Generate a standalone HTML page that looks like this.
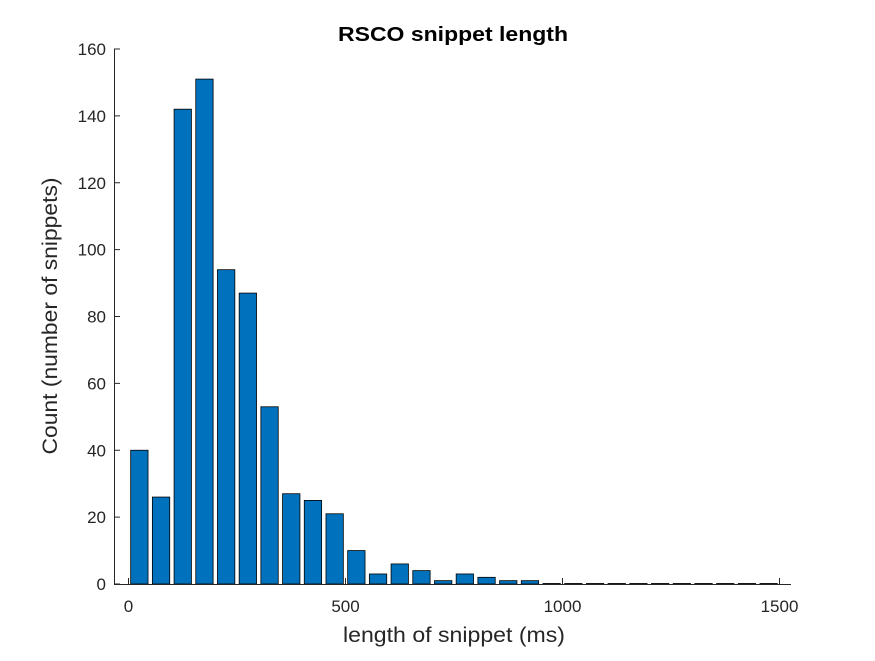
<!DOCTYPE html>
<html><head><meta charset="utf-8"><style>
body{margin:0;background:#fff;}
svg text{font-family:"Liberation Sans",Arial,sans-serif;fill:#262626;}
</style></head><body>
<svg width="875" height="656" xmlns="http://www.w3.org/2000/svg">
<rect width="875" height="656" fill="#fff"/>
<g id="bars"></g>
<g id="axes"></g>
<text x="453" y="41" text-anchor="middle" font-size="20" font-weight="bold" textLength="230" lengthAdjust="spacingAndGlyphs" style="fill:#000">RSCO snippet length</text>
<text x="454" y="642" text-anchor="middle" font-size="21" textLength="222" lengthAdjust="spacingAndGlyphs">length of snippet (ms)</text>
<text transform="translate(57,316) rotate(-90)" text-anchor="middle" font-size="21" textLength="277" lengthAdjust="spacingAndGlyphs">Count (number of snippets)</text>
</svg>
<script>
const binCenters=[25,75,125,175,225,275,325,375,425,475,525,575,625,675,725,775,825,875,925,975,1025,1075,1125,1175,1225,1275,1325,1375,1425,1475];
const counts=[40,26,142,151,94,87,53,27,25,21,10,3,6,4,1,3,2,1,1,0,0,0,0,0,0,0,0,0,0,0];
const xTicks=[0,500,1000,1500];
const yTicks=[0,20,40,60,80,100,120,140,160];
const binWidth=50;
const NS="http://www.w3.org/2000/svg";
const x=v=>128.5+v*(217/500);
const y=v=>584-v*(535/160);
const bars=document.getElementById('bars'),axes=document.getElementById('axes');
function mk(t,a,p){const e=document.createElementNS(NS,t);for(const k in a)e.setAttribute(k,a[k]);p.appendChild(e);return e;}
binCenters.forEach((c,i)=>{
  const w=binWidth*0.8;
  const r=mk('rect',{x:x(c-w/2),y:y(counts[i])-(counts[i]===0?0.5:0),width:x(c+w/2)-x(c-w/2),height:Math.max(y(0)-y(counts[i]),0.5),fill:'#0072BD',stroke:'#000','stroke-width':0.8},bars);
  
  
});
mk('line',{x1:114,y1:584.5,x2:791,y2:584.5,stroke:'#262626','stroke-width':1},axes);
mk('line',{x1:114.5,y1:49,x2:114.5,y2:584,stroke:'#262626','stroke-width':1},axes);
xTicks.forEach(t=>{
  mk('line',{x1:x(t),y1:584,x2:x(t),y2:578,stroke:'#262626'},axes);
  const tx=mk('text',{x:x(t),y:612,'text-anchor':'middle','font-size':17},axes);
  tx.textContent=t;
  
  
});
yTicks.forEach(t=>{
  mk('line',{x1:114,y1:y(t),x2:120,y2:y(t),stroke:'#262626'},axes);
  const tx=mk('text',{x:106,y:y(t)+6,'text-anchor':'end','font-size':17},axes);
  tx.textContent=t;
  
  
});
</script>
</body></html>
